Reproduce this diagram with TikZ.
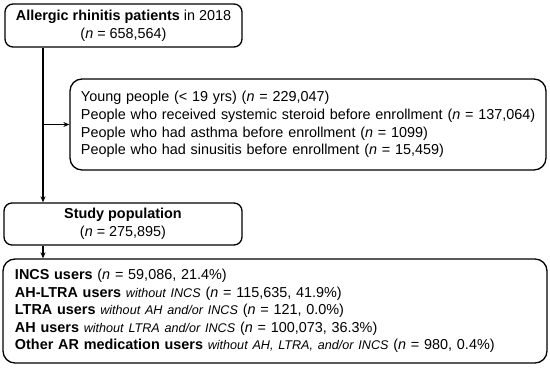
\documentclass[tikz,border=0pt]{standalone}
\usepackage{fontspec}
\setmainfont{Liberation Sans}
\usetikzlibrary{arrows.meta}
\tikzset{
  box/.style={draw, line width=1.3pt, rounded corners=8pt, inner ysep=0pt},
  bigbox/.style={box, rounded corners=12pt},
  arr/.style={line width=1.3pt, -{Stealth[length=6pt,width=5pt]}},
}
\newcommand{\nn}{\textit{n}}
\newcommand{\sm}[1]{{\fontsize{12.6}{14}\selectfont\itshape #1}}
\begin{document}
\begin{tikzpicture}[x=1pt,y=-1pt, font=\fontsize{14.4}{17.6}\selectfont]
\useasboundingbox (0,0) rectangle (550,371);
\node[box, minimum width=237pt, minimum height=43pt, align=center] (top) at (123.5,25.5)
  {\textbf{Allergic rhinitis patients} in 2018\\(\nn{} = 658,564)};
\node[bigbox, minimum width=476pt, minimum height=91pt, text width=454pt, inner xsep=11pt, align=left] (excl) at (308,124.5)
  {\mbox{Young people (< 19 yrs) (\nn{} = 229,047)}\\
   \mbox{People who received systemic steroid before enrollment (\nn{} = 137,064)}\\
   \mbox{People who had asthma before enrollment (\nn{} = 1099)}\\
   \mbox{People who had sinusitis before enrollment (\nn{} = 15,459)}};
\node[box, minimum width=238pt, minimum height=42pt, align=center] (study) at (123,224)
  {\textbf{Study population}\\(\nn{} = 275,895)};
\node[bigbox, minimum width=544pt, minimum height=104pt, text width=520pt, inner xsep=12pt, align=left] (groups) at (275,311)
  {\mbox{\textbf{INCS users} (\nn{} = 59,086, 21.4\%)}\\
   \mbox{\textbf{AH-LTRA users} \sm{without INCS} (\nn{} = 115,635, 41.9\%)}\\
   \mbox{\textbf{LTRA users} \sm{without AH and/or INCS} (\nn{} = 121, 0.0\%)}\\
   \mbox{\textbf{AH users} \sm{without LTRA and/or INCS} (\nn{} = 100,073, 36.3\%)}\\
   \mbox{\textbf{Other AR medication users} \sm{without AH, LTRA, and/or INCS} (\nn{} = 980, 0.4\%)}};
\coordinate (vx) at (43,0);
\draw[arr] (top.south -| vx) -- (study.north -| vx);
\draw[arr] (vx |- excl.west) -- (excl.west);
\draw[arr] (study.south -| vx) -- (groups.north -| vx);
\end{tikzpicture}
\end{document}
